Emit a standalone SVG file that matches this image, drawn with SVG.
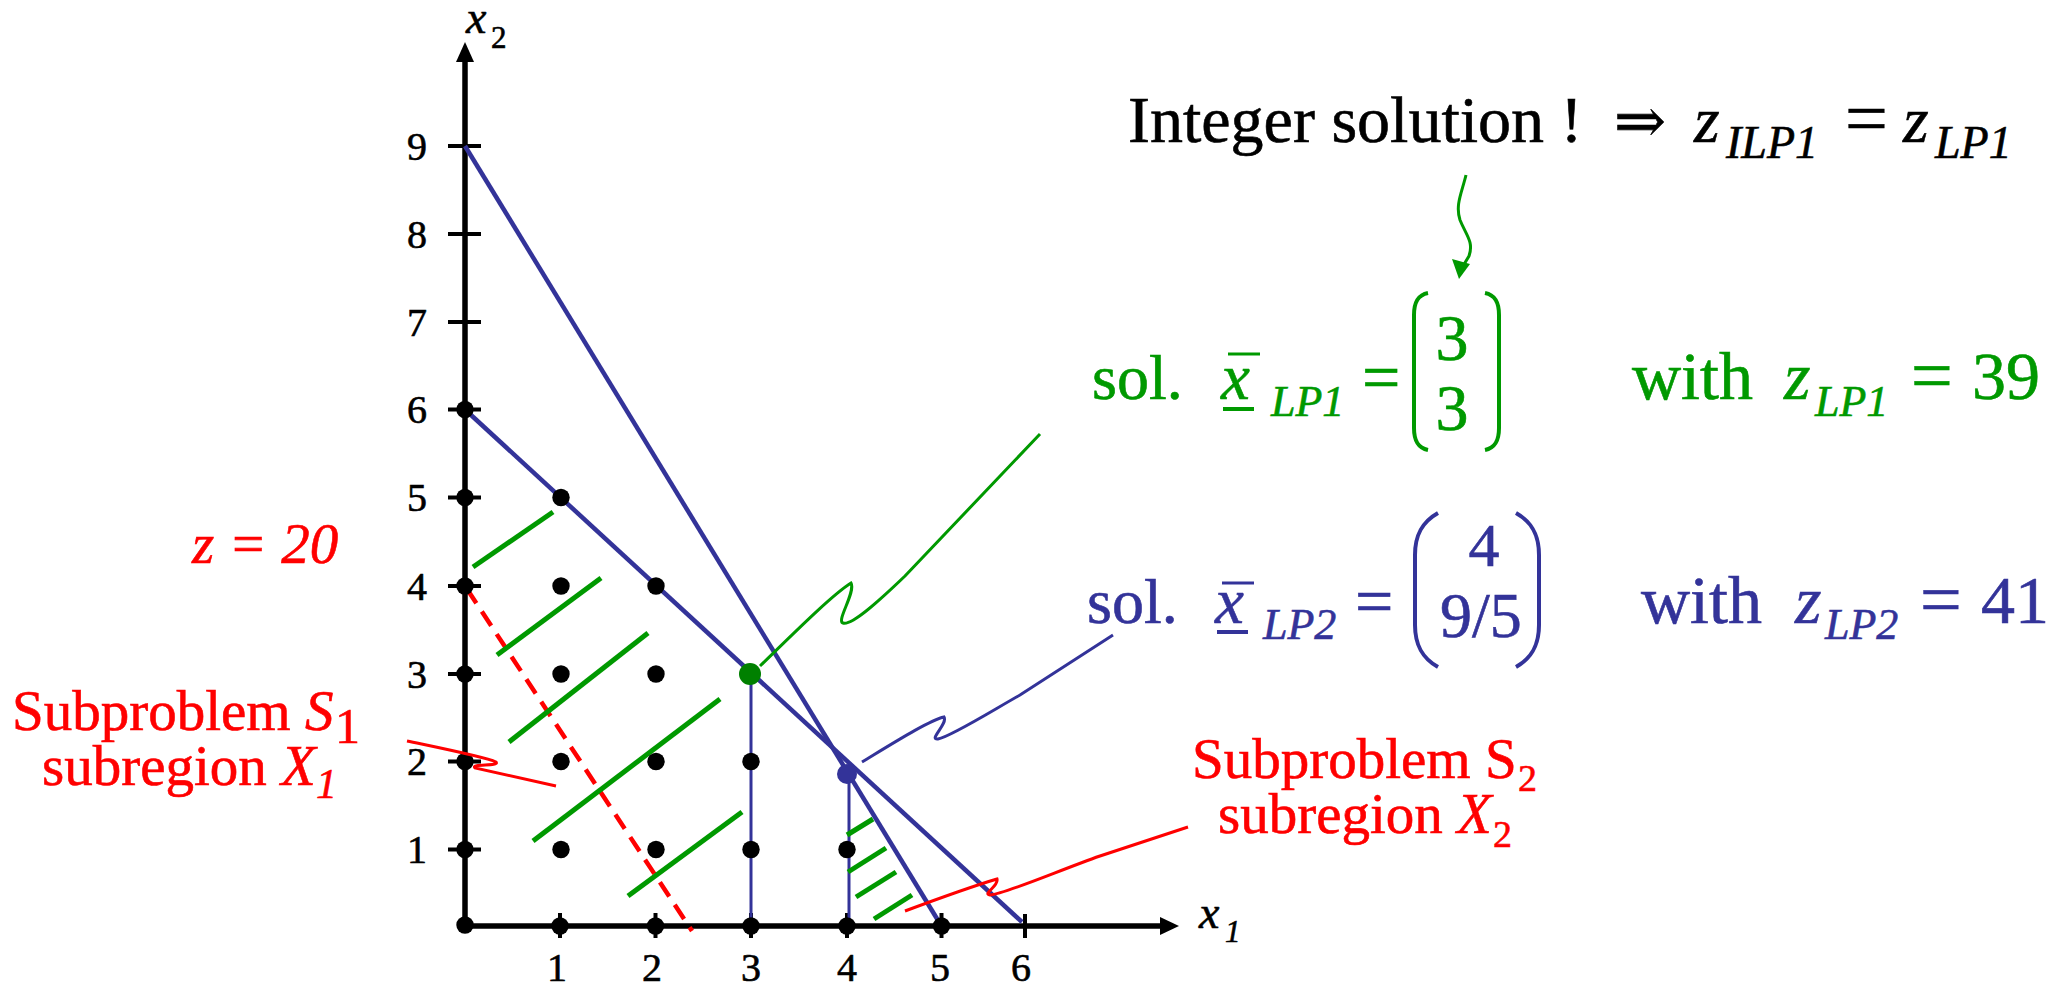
<svg xmlns="http://www.w3.org/2000/svg" width="2065" height="982" viewBox="0 0 2065 982" font-family="Liberation Serif, Times New Roman, serif">
<style>
text{font-family:"Liberation Serif","Times New Roman",serif;stroke-width:0.6}
.ax{stroke:#000;stroke-width:5.5;fill:none}
.tk{stroke:#000;stroke-width:4}
.num{font-size:40px;fill:#000;text-anchor:middle}
.dot{fill:#000}
.bl{stroke:#333399;stroke-width:4.5;fill:none}
.blt{stroke:#333399;stroke-width:3;fill:none}
.hg{stroke:#009900;stroke-width:5;fill:none}
.cg{stroke:#009900;stroke-width:3;fill:none}
.cb{stroke:#333399;stroke-width:3;fill:none}
.cr{stroke:#ff0000;stroke-width:3;fill:none}
.red{fill:#ff0000;stroke:#ff0000}
.grn{fill:#009900;stroke:#009900}
.blu{fill:#333399;stroke:#333399}
.blk{fill:#000;stroke:#000}
.it{font-style:italic}
.sym{font-family:"DejaVu Serif",serif}
</style>

<g id="axes">
  <line class="ax" x1="465" y1="926" x2="465" y2="58"/>
  <polygon points="465,42 456,62 474,62" fill="#000"/>
  <line class="ax" x1="465" y1="926" x2="1163" y2="926"/>
  <polygon points="1179,926 1160,917 1160,935" fill="#000"/>
  <g class="tk">
    <line x1="448" y1="146" x2="481" y2="146"/>
    <line x1="448" y1="234" x2="481" y2="234"/>
    <line x1="448" y1="322" x2="481" y2="322"/>
    <line x1="448" y1="409.5" x2="481" y2="409.5"/>
    <line x1="448" y1="497.5" x2="481" y2="497.5"/>
    <line x1="448" y1="586" x2="481" y2="586"/>
    <line x1="448" y1="674" x2="481" y2="674"/>
    <line x1="448" y1="761.5" x2="481" y2="761.5"/>
    <line x1="448" y1="849.5" x2="481" y2="849.5"/>
    <line x1="560" y1="913" x2="560" y2="938"/>
    <line x1="655.5" y1="913" x2="655.5" y2="938"/>
    <line x1="751" y1="913" x2="751" y2="938"/>
    <line x1="847" y1="913" x2="847" y2="938"/>
    <line x1="941.5" y1="913" x2="941.5" y2="938"/>
    <line x1="1025" y1="914" x2="1025" y2="938"/>
  </g>
  <g class="num blk">
    <text x="417" y="159.5">9</text>
    <text x="417" y="247.5">8</text>
    <text x="417" y="335.5">7</text>
    <text x="417" y="423">6</text>
    <text x="417" y="511">5</text>
    <text x="417" y="599.5">4</text>
    <text x="417" y="687.5">3</text>
    <text x="417" y="775">2</text>
    <text x="417" y="863">1</text>
    <text x="557" y="981">1</text>
    <text x="652" y="981">2</text>
    <text x="751" y="981">3</text>
    <text x="847" y="981">4</text>
    <text x="940" y="981">5</text>
    <text x="1021" y="981">6</text>
  </g>
  <text x="466" y="33" font-size="46" class="it blk">x<tspan x="491" y="48" font-size="31" font-style="normal">2</tspan></text>
  <text x="1199" y="928" font-size="46" class="it blk">x<tspan x="1225" y="942" font-size="31">1</tspan></text>
</g>

<g id="constraints">
  <line class="bl" x1="465" y1="146" x2="939" y2="922"/>
  <line class="bl" x1="465" y1="409.5" x2="1022" y2="922"/>
  <line class="blt" x1="751" y1="674" x2="751" y2="926"/>
  <line class="blt" x1="849" y1="774" x2="849" y2="926"/>
  <line x1="467" y1="589" x2="692" y2="931" stroke="#ff0000" stroke-width="4.5" stroke-dasharray="17 10"/>
</g>

<g id="hatching">
  <line class="hg" x1="473" y1="567" x2="553" y2="512"/>
  <line class="hg" x1="497" y1="655" x2="601" y2="578"/>
  <line class="hg" x1="509" y1="742" x2="648" y2="633"/>
  <line class="hg" x1="533" y1="841" x2="720" y2="699"/>
  <line class="hg" x1="628" y1="896" x2="742" y2="812"/>
  <line class="hg" x1="847" y1="835" x2="873" y2="819"/>
  <line class="hg" x1="848" y1="872" x2="886" y2="848"/>
  <line class="hg" x1="856" y1="897" x2="896" y2="872"/>
  <line class="hg" x1="874" y1="919" x2="912" y2="895"/>
</g>

<g id="points">
  <circle class="dot" cx="465" cy="925" r="8.7"/>
  <circle class="dot" cx="465" cy="849.5" r="8.7"/>
  <circle class="dot" cx="465" cy="761.5" r="8.7"/>
  <circle class="dot" cx="465" cy="674" r="8.7"/>
  <circle class="dot" cx="465" cy="586" r="8.7"/>
  <circle class="dot" cx="465" cy="497.5" r="8.7"/>
  <circle class="dot" cx="465" cy="409.5" r="8.7"/>
  <circle class="dot" cx="560" cy="926" r="8.7"/>
  <circle class="dot" cx="655.5" cy="926" r="8.7"/>
  <circle class="dot" cx="751" cy="926" r="8.7"/>
  <circle class="dot" cx="847" cy="926" r="8.7"/>
  <circle class="dot" cx="941.5" cy="926" r="8.7"/>
  <circle class="dot" cx="561" cy="849.5" r="8.7"/>
  <circle class="dot" cx="561" cy="761.5" r="8.7"/>
  <circle class="dot" cx="561" cy="674" r="8.7"/>
  <circle class="dot" cx="561" cy="586" r="8.7"/>
  <circle class="dot" cx="561" cy="497.5" r="8.7"/>
  <circle class="dot" cx="656" cy="849.5" r="8.7"/>
  <circle class="dot" cx="656" cy="761.5" r="8.7"/>
  <circle class="dot" cx="656" cy="674" r="8.7"/>
  <circle class="dot" cx="656" cy="586" r="8.7"/>
  <circle class="dot" cx="751" cy="849.5" r="8.7"/>
  <circle class="dot" cx="751" cy="761.5" r="8.7"/>
  <circle class="dot" cx="847" cy="849.5" r="8.7"/>
  <circle id="lp1-point" cx="750" cy="674" r="11" fill="#008000"/>
  <circle id="lp2-point" cx="847" cy="774" r="10" fill="#333399"/>
</g>

<g id="connectors">
  <path class="cg" d="M760,666 C795,632 832,595 851,583 C856,592 836,621 843,623 C852,626 880,600 905,576 L1040,434"/>
  <path class="cb" d="M862,762 C895,742 930,720 944,717 C948,724 928,740 938,739 C950,737 990,712 1020,695 L1113,635"/>
  <path class="cr" d="M905,911 C940,898 980,884 997,879 C999,886 982,894 990,895 C1005,894 1060,870 1100,856 L1188,827"/>
  <path class="cr" d="M407,741 C440,748 485,757 496,762 C500,767 470,763 475,768 L556,786"/>
  <path class="cg" d="M1466,175 C1462,192 1455,205 1460,220 C1466,235 1474,242 1469,256 L1463,266"/>
  <polygon points="1459,279 1452,259 1470,264" fill="#009900"/>
</g>

<g id="label-z20">
  <text x="192" y="563" font-size="57" class="it red">z = 20</text>
</g>

<g id="label-s1">
  <text x="12" y="730" font-size="57" class="red">Subproblem <tspan class="it">S</tspan><tspan x="335" y="743" font-size="50">1</tspan></text>
  <text x="42" y="785" font-size="57" class="red">subregion <tspan class="it">X</tspan><tspan x="316" y="798" font-size="42" class="it">1</tspan></text>
</g>

<g id="label-s2">
  <text x="1192" y="778" font-size="57" class="red">Subproblem S<tspan x="1518" y="791" font-size="38">2</tspan></text>
  <text x="1218" y="833" font-size="57" class="red">subregion <tspan class="it">X</tspan><tspan x="1493" y="847" font-size="38">2</tspan></text>
</g>

<g id="label-integer">
  <text x="1128" y="142" font-size="66" class="blk">Integer solution !</text>
  <text x="1614" y="142" font-size="62" class="sym blk">⇒</text>
  <text x="1694" y="142" font-size="66" class="it blk">z</text>
  <text x="1726" y="158" font-size="46" class="it blk">ILP1</text>
  <text x="1845" y="144" font-size="76" class="blk">=</text>
  <text x="1903" y="142" font-size="66" class="it blk">z</text>
  <text x="1935" y="158" font-size="46" class="it blk">LP1</text>
</g>

<g id="label-lp1" class="grn">
  <text x="1092" y="399" font-size="64">sol.</text>
  <text x="1221" y="399" font-size="65" class="it">x</text>
  <line x1="1228" y1="354" x2="1260" y2="354" stroke="#009900" stroke-width="3"/>
  <line x1="1223" y1="409" x2="1254" y2="409" stroke="#009900" stroke-width="4"/>
  <text x="1271" y="416" font-size="44" class="it">LP1</text>
  <text x="1362" y="400" font-size="68">=</text>
  <path d="M1428,293 C1418,295 1414,302 1414,315 L1414,428 C1414,441 1418,448 1428,450" stroke="#009900" stroke-width="4" fill="none"/>
  <text x="1452" y="360" font-size="66" text-anchor="middle">3</text>
  <text x="1452" y="430" font-size="66" text-anchor="middle">3</text>
  <path d="M1485,293 C1495,295 1499,302 1499,315 L1499,428 C1499,441 1495,448 1485,450" stroke="#009900" stroke-width="4" fill="none"/>
  <text x="1632" y="399" font-size="68">with</text>
  <text x="1784" y="399" font-size="68" class="it">z</text>
  <text x="1815" y="416" font-size="44" class="it">LP1</text>
  <text x="1911" y="400" font-size="74">=</text>
  <text x="1972" y="399" font-size="68">39</text>
</g>

<g id="label-lp2" class="blu">
  <text x="1087" y="623" font-size="64">sol.</text>
  <text x="1215" y="623" font-size="65" class="it">x</text>
  <line x1="1222" y1="583" x2="1254" y2="583" stroke="#333399" stroke-width="3"/>
  <line x1="1217" y1="632" x2="1248" y2="632" stroke="#333399" stroke-width="4"/>
  <text x="1263" y="639" font-size="44" class="it">LP2</text>
  <text x="1355" y="624" font-size="68">=</text>
  <path d="M1438,513 C1422,522 1415,535 1415,555 L1415,625 C1415,645 1422,658 1438,667" stroke="#333399" stroke-width="4" fill="none"/>
  <text x="1484" y="566" font-size="62" text-anchor="middle">4</text>
  <text x="1440" y="637" font-size="64">9/5</text>
  <path d="M1516,513 C1532,522 1539,535 1539,555 L1539,625 C1539,645 1532,658 1516,667" stroke="#333399" stroke-width="4" fill="none"/>
  <text x="1641" y="623" font-size="68">with</text>
  <text x="1795" y="623" font-size="68" class="it">z</text>
  <text x="1825" y="639" font-size="44" class="it">LP2</text>
  <text x="1920" y="624" font-size="74">=</text>
  <text x="1981" y="623" font-size="68">41</text>
</g>
</svg>
